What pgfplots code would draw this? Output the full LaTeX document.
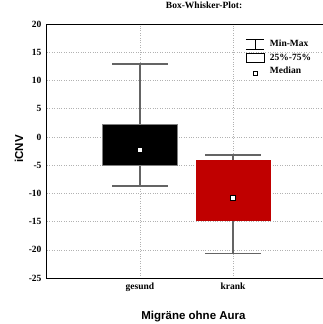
\documentclass[border=0pt]{standalone}
\usepackage{fontspec}
\setmainfont{Liberation Serif}
\newfontfamily\sansb{Liberation Sans}
\usepackage{pgfplots}
\pgfplotsset{compat=1.18}
\usepgfplotslibrary{statistics}
\definecolor{boxred}{RGB}{192,0,0}
\definecolor{whisk}{RGB}{100,100,100}
\begin{document}
\begin{tikzpicture}
\path[use as bounding box] (-47pt,-46pt) rectangle (276pt,278pt);
\begin{axis}[
  at={(0pt,0pt)}, anchor=south west, name=ax,
  scale only axis, width=279pt, height=254pt,
  xmin=0, xmax=3, ymin=-25, ymax=20,
  clip mode=individual,
  xtick={1,2}, xticklabels={gesund,krank},
  ytick={-25,-20,...,20},
  major tick length=0pt,
  grid=major,
  grid style={dotted, gray!60, line width=0.5pt},
  axis line style={line width=1pt},
  /pgf/number format/assume math mode=true,
  tick label style={font=\fontsize{9.5}{11}\selectfont\bfseries},
  yticklabel style={xshift=-2pt},
  xticklabel style={yshift=-1pt},
  title={\fontsize{9.5}{11}\selectfont\bfseries Box-Whisker-Plot:},
  title style={at={(rel axis cs:0.563,1)}, anchor=base, yshift=9pt},
  xlabel={\sansb\fontsize{11.5}{13}\selectfont\bfseries Migräne ohne Aura},
  xlabel style={at={(rel axis cs:0.525,0)}, anchor=center, yshift=-39pt},
  legend style={at={(rel axis cs:0.705,0.945)}, anchor=north west, draw=none, fill=none,
    font=\fontsize{9.5}{11}\selectfont\bfseries, row sep=1.5pt, cells={anchor=west},
    inner sep=0pt},
  legend cell align=left,
  boxplot/draw direction=y,
]
\addplot[fill=black, draw=gray, line width=0.6pt,
  boxplot/every whisker/.style={draw=whisk, line width=1.2pt},
  boxplot/every median/.style={draw=none},
  boxplot prepared={lower whisker=-8.7, lower quartile=-4.95, median=-2.3,
    upper quartile=2.3, upper whisker=12.9, draw position=1,
    box extend=0.8, whisker extend=0.6},
  forget plot] coordinates {};
\addplot[fill=boxred, draw=boxred, line width=0.6pt,
  boxplot/every whisker/.style={draw=whisk, line width=1.2pt},
  boxplot/every median/.style={draw=none},
  boxplot prepared={lower whisker=-20.7, lower quartile=-14.7, median=-10.8,
    upper quartile=-4.2, upper whisker=-3.2, draw position=2,
    box extend=0.8, whisker extend=0.6},
  forget plot] coordinates {};
\addplot[only marks, mark=square*, mark size=2.2pt,
  mark options={fill=white, draw=black, line width=0.8pt}, forget plot]
  coordinates {(1,-2.3) (2,-10.8)};
\addlegendimage{legend image code/.code={
  \path[draw=none,fill=none] (-11pt,-5pt) rectangle (13pt,5pt);
  \draw[black, fill=none, line width=0.7pt] (-9pt,5pt)--(9pt,5pt) (-9pt,-5pt)--(9pt,-5pt) (0pt,-5pt)--(0pt,5pt);}}
\addlegendentry{Min-Max}
\addlegendimage{legend image code/.code={
  \path[draw=none,fill=none] (-11pt,-5pt) rectangle (13pt,5pt);
  \draw[black, fill=none, line width=0.7pt] (-9pt,-4.5pt) rectangle (9pt,4.5pt);}}
\addlegendentry{25\%-75\%}
\addlegendimage{legend image code/.code={
  \path[draw=none,fill=none] (-11pt,-5pt) rectangle (13pt,5pt);
  \draw[black, line width=0.7pt, fill=white] (-2pt,-4pt) rectangle (2pt,0pt);}}
\addlegendentry{Median}
\end{axis}
\node[rotate=90, anchor=center, inner sep=0pt] at (-28pt,129pt)
  {\sansb\fontsize{11.5}{13}\selectfont\bfseries iCNV};
\end{tikzpicture}
\end{document}
